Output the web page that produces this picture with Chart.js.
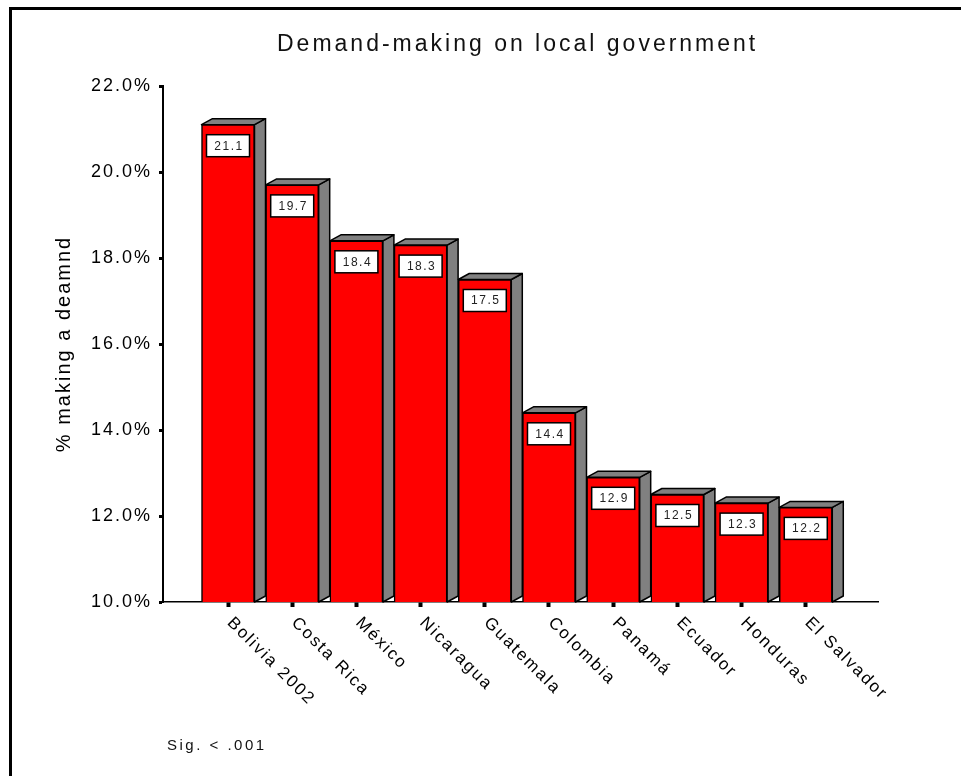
<!DOCTYPE html>
<html>
<head>
<meta charset="utf-8">
<script src="https://cdn.jsdelivr.net/npm/chart.js@4"></script>
<style>
  body { margin: 0; background: #fff; }
  canvas { display: block; }
</style>
</head>
<body>
<canvas id="chart" width="961" height="776"></canvas>
<script>
const countries = ["Bolivia 2002", "Costa Rica", "México", "Nicaragua", "Guatemala", "Colombia", "Panamá", "Ecuador", "Honduras", "El Salvador"];
const demandPct = [21.1, 19.7, 18.4, 18.3, 17.5, 14.4, 12.9, 12.5, 12.3, 12.2];
const yTicks = [10, 12, 14, 16, 18, 20, 22];

const chartTitle = "Demand-making on local government";
const yTitle = "% making a deamnd";
const note = "Sig. < .001";

const FONT = "'Liberation Sans', Arial, sans-serif";
const DX = 11, DY = 6;

// 3D sides/tops, value boxes, rotated labels, frame and texts
const decor = {
  id: "decor",
  beforeDraw(chart) {
    const ctx = chart.ctx;
    ctx.letterSpacing = "2px";
    ctx.save();
    ctx.fillStyle = "#000";
    ctx.fillRect(9, 7, 952, 3);
    ctx.fillRect(9, 7, 3, 769);
    ctx.restore();
  },
  beforeDatasetsDraw(chart) {
    const ctx = chart.ctx;
    const meta = chart.getDatasetMeta(0);
    const floor = chart.chartArea.bottom;
    ctx.save();
    ctx.fillStyle = "#808080";
    ctx.strokeStyle = "#000";
    ctx.lineWidth = 1.5;
    ctx.lineJoin = "round";
    meta.data.forEach((bar) => {
      const l = bar.x - bar.width / 2, r = bar.x + bar.width / 2;
      const t = bar.y, b = Math.min(bar.base, floor);
      ctx.beginPath();
      ctx.moveTo(r, t);
      ctx.lineTo(r + DX, t - DY);
      ctx.lineTo(r + DX, b - DY);
      ctx.lineTo(r, b);
      ctx.closePath();
      ctx.fill();
      ctx.stroke();
      ctx.beginPath();
      ctx.moveTo(l, t);
      ctx.lineTo(l + DX, t - DY);
      ctx.lineTo(r + DX, t - DY);
      ctx.lineTo(r, t);
      ctx.closePath();
      ctx.fill();
      ctx.stroke();
    });
    ctx.restore();
  },
  afterDatasetsDraw(chart) {
    const ctx = chart.ctx;
    const meta = chart.getDatasetMeta(0);
    ctx.save();
    ctx.letterSpacing = "1.5px";
    ctx.font = "12px " + FONT;
    ctx.textAlign = "center";
    ctx.textBaseline = "middle";
    meta.data.forEach((bar, i) => {
      const bx = bar.x - 21.5, by = bar.y + 10;
      ctx.fillStyle = "#fff";
      ctx.fillRect(bx, by, 43, 22);
      ctx.strokeStyle = "#000";
      ctx.lineWidth = 1.5;
      ctx.strokeRect(bx, by, 43, 22);
      ctx.fillStyle = "#222";
      ctx.fillText(demandPct[i].toFixed(1), bar.x + 1, by + 11.5);
    });
    ctx.restore();
  },
  afterDraw(chart) {
    const ctx = chart.ctx;
    const xs = chart.scales.x;
    const bottom = chart.chartArea.bottom;
    ctx.save();
    ctx.fillStyle = "#000";

    // x labels, rotated clockwise
    ctx.font = "17px " + FONT;
    ctx.letterSpacing = "2px";
    ctx.textAlign = "left";
    ctx.textBaseline = "alphabetic";
    countries.forEach((c, i) => {
      const x = xs.getPixelForValue(i);
      ctx.save();
      ctx.translate(x - 1.5, bottom + 21.5);
      ctx.rotate(Math.PI / 4);
      ctx.fillText(c, 0, 0);
      ctx.restore();
    });

    // title
    ctx.font = "23px " + FONT;
    ctx.letterSpacing = "3px";
    ctx.textAlign = "left";
    ctx.textBaseline = "middle";
    ctx.fillStyle = "#111";
    ctx.fillText(chartTitle, 277, 45);

    // note
    ctx.font = "15px " + FONT;
    ctx.letterSpacing = "2.5px";
    ctx.fillText(note, 167, 746);
    ctx.restore();
  }
};

new Chart(document.getElementById("chart"), {
  type: "bar",
  data: {
    datasets: [{
      data: demandPct.map((v, i) => ({ x: i, y: v })),
      backgroundColor: "#ff0000",
      borderColor: "#000",
      borderWidth: 1.5,
      barThickness: 53,
    }]
  },
  options: {
    responsive: false,
    animation: false,
    layout: { padding: { top: 86, right: 83, bottom: 0, left: 0 } },
    plugins: {
      legend: { display: false },
      tooltip: { enabled: false },
      title: { display: false },
    },
    scales: {
      x: {
        type: "linear",
        offset: false,
        min: -1.0125,
        max: 10.125,
        afterBuildTicks: (s) => { s.ticks = countries.map((c, i) => ({ value: i })); },
        afterFit: (s) => { s.height = 174; },
        ticks: { display: false },
        grid: { offset: false, drawOnChartArea: false, drawTicks: true, tickLength: 5, tickWidth: 4, color: "#000" },
        border: { color: "#000", width: 1.5 },
      },
      y: {
        min: 10,
        max: 22,
        afterBuildTicks: (s) => { s.ticks = yTicks.map((v) => ({ value: v })); },
        afterFit: (s) => { s.width = 163; },
        ticks: {
          color: "#000",
          font: { family: FONT, size: 18 },
          padding: 7,
          callback: (v) => v.toFixed(1) + "%",
        },
        grid: { drawOnChartArea: false, drawTicks: true, tickLength: 4, tickWidth: 3, color: "#000" },
        border: { color: "#000", width: 2 },
        title: {
          display: true,
          text: yTitle,
          color: "#000",
          font: { family: FONT, size: 20 },
          padding: { top: 52 },
        },
      },
    },
  },
  plugins: [decor],
});
</script>
</body>
</html>
